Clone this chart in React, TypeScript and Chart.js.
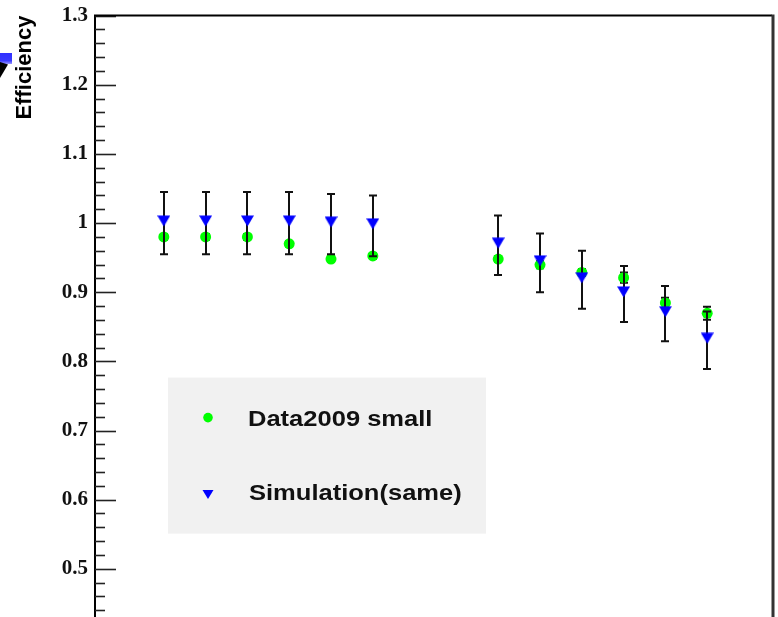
import React, { useEffect, useRef } from "react";
import { Chart, registerables } from "chart.js";

Chart.register(...registerables);

// ---- data ----
const xPositions = [1, 2, 3, 4, 5, 6, 9, 10, 11, 12, 13, 14];
const dataLabel = "Data2009 small";
const dataEff = [0.98, 0.98, 0.98, 0.97, 0.948, 0.9525, 0.948, 0.9396, 0.9285, 0.921, 0.8845, 0.8695];
const dataErr = [0.004, 0.004, 0.004, 0.004, 0.004, 0.004, 0.004, 0.005, 0.005, 0.0075, 0.0075, 0.0095];
const simLabel = "Simulation(same)";
const simEff = [1.0, 1.0, 1.0, 1.0, 0.9985, 0.996, 0.968, 0.9425, 0.918, 0.8975, 0.869, 0.8305];
const simErr = [0.045, 0.045, 0.045, 0.045, 0.0435, 0.044, 0.043, 0.0425, 0.042, 0.0405, 0.04, 0.0415];
const yTickValues = [0.4, 0.5, 0.6, 0.7, 0.8, 0.9, 1.0, 1.1, 1.2, 1.3];
const yTickLabels = ["0.4", "0.5", "0.6", "0.7", "0.8", "0.9", "1", "1.1", "1.2", "1.3"];
const yTitle = "Efficiency";

const GREEN = "#00ff00";
const BLUE = "#0000ff";

function makeTriangle(w: number, h: number, triH: number): HTMLCanvasElement {
  const c = document.createElement("canvas");
  c.width = w;
  c.height = h;
  const g = c.getContext("2d")!;
  g.fillStyle = BLUE;
  g.beginPath();
  g.moveTo(0, 0.5);
  g.lineTo(w, 0.5);
  g.lineTo(w / 2, 0.5 + triH);
  g.closePath();
  g.fill();
  return c;
}

const errorBarPlugin = {
  id: "errorBars",
  beforeDatasetDraw(chart: any, args: any) {
    const ds = chart.data.datasets[args.index];
    const errs: number[] = ds.errors;
    if (!errs) return;
    const { ctx } = chart;
    const xs = chart.scales.x;
    const ys = chart.scales.y;
    ctx.save();
    ctx.strokeStyle = "#111";
    ctx.lineWidth = 2;
    ds.data.forEach((p: any, i: number) => {
      const x = Math.round(xs.getPixelForValue(p.x));
      const y1 = ys.getPixelForValue(p.y + errs[i]);
      const y2 = ys.getPixelForValue(p.y - errs[i]);
      ctx.beginPath();
      ctx.moveTo(x, y1);
      ctx.lineTo(x, y2);
      ctx.moveTo(x - 4, y1);
      ctx.lineTo(x + 4, y1);
      ctx.moveTo(x - 4, y2);
      ctx.lineTo(x + 4, y2);
      ctx.stroke();
    });
    ctx.restore();
  },
};

const framePlugin = {
  id: "frame",
  afterDraw(chart: any) {
    const { ctx, chartArea } = chart;
    const ys = chart.scales.y;
    const { left, right, top, bottom } = chartArea;
    ctx.save();
    // inward tick marks (major every 0.1, minor every 0.02)
    ctx.strokeStyle = "#222";
    ctx.lineWidth = 1.6;
    const start = Math.ceil(ys.min / 0.02 - 1e-6);
    const end = Math.floor(ys.max / 0.02 + 1e-6);
    for (let k = start; k <= end; k++) {
      const v = k * 0.02;
      const y = Math.round(ys.getPixelForValue(v)) + 0.5;
      const major = k % 5 === 0;
      ctx.beginPath();
      ctx.moveTo(left, y);
      ctx.lineTo(left + (major ? 21 : 10), y);
      ctx.stroke();
    }
    // top and right frame
    ctx.strokeStyle = "#000";
    ctx.lineWidth = 2;
    ctx.beginPath();
    ctx.moveTo(left - 1, top);
    ctx.lineTo(right, top);
    ctx.stroke();
    ctx.strokeStyle = "#333";
    ctx.lineWidth = 3;
    ctx.beginPath();
    ctx.moveTo(right + 1, top - 1);
    ctx.lineTo(right + 1, bottom);
    ctx.stroke();
    ctx.restore();
  },
};

const legendPlugin = {
  id: "boxLegend",
  afterDraw(chart: any) {
    const { ctx } = chart;
    const dsets = chart.data.datasets;
    const dy = chart.chartArea.top - 15;
    ctx.save();
    ctx.translate(0, dy);
    ctx.fillStyle = "#f1f1f1";
    ctx.fillRect(168, 377, 318, 156);
    // green circle
    ctx.fillStyle = GREEN;
    ctx.beginPath();
    ctx.arc(208, 417, 4.8, 0, Math.PI * 2);
    ctx.fill();
    // blue triangle
    ctx.fillStyle = BLUE;
    ctx.beginPath();
    ctx.moveTo(202.5, 489.5);
    ctx.lineTo(213.5, 489.5);
    ctx.lineTo(208, 498.5);
    ctx.closePath();
    ctx.fill();
    ctx.fillStyle = "#111";
    ctx.font = "bold 22px 'Liberation Sans', Arial, sans-serif";
    ctx.textBaseline = "alphabetic";
    ctx.textAlign = "left";
    const rows = [
      { text: dsets[1].label, x: 248, y: 425 },
      { text: dsets[0].label, x: 249, y: 499 },
    ];
    rows.forEach((r) => {
      ctx.save();
      ctx.translate(r.x, r.y);
      ctx.scale(1.16, 1);
      ctx.fillText(r.text, 0, 0);
      ctx.restore();
    });
    ctx.restore();
  },
};

export default function App() {
  const ref = useRef<HTMLCanvasElement | null>(null);

  useEffect(() => {
    document.body.style.margin = "0";
    const canvas = ref.current!;
    const tri = makeTriangle(13, 16, 11);
    const chart = new Chart(canvas, {
      type: "scatter",
      data: {
        datasets: [
          {
            label: simLabel,
            data: xPositions.map((x, i) => ({ x, y: simEff[i] })),
            errors: simErr,
            pointStyle: tri,
            pointRadius: 6,
            backgroundColor: BLUE,
            borderColor: BLUE,
            borderWidth: 0,
            order: 1,
          } as any,
          {
            label: dataLabel,
            data: xPositions.map((x, i) => ({ x, y: dataEff[i] })),
            errors: dataErr,
            pointStyle: "circle",
            pointRadius: 5.5,
            backgroundColor: GREEN,
            borderColor: GREEN,
            borderWidth: 0,
            order: 2,
          } as any,
        ],
      },
      options: {
        animation: false,
        responsive: false,
        events: [],
        layout: { padding: { top: 15, right: 4, bottom: 20, left: 0 } },
        plugins: {
          legend: { display: false },
          tooltip: { enabled: false },
        },
        scales: {
          x: {
            type: "linear",
            display: false,
            min: -0.646,
            max: 15.55,
          },
          y: {
            type: "linear",
            min: 0.345,
            max: 1.3,
            afterFit: (scale: any) => {
              scale.width = 95;
            },
            grid: { display: false, drawTicks: false },
            border: { display: true, color: "#000", width: 2 },
            title: {
              display: true,
              text: yTitle,
              align: "end",
              color: "#000",
              font: { family: "'Liberation Sans', Arial, sans-serif", weight: "bold", size: 22 },
              padding: { top: 12, bottom: 0 },
            },
            ticks: {
              stepSize: 0.1,
              includeBounds: false,
              padding: 7,
              color: "#111",
              font: { family: "'Liberation Serif', 'Times New Roman', serif", weight: "bold", size: 21 },
              callback: (v: any) => {
                const idx = yTickValues.findIndex((t) => Math.abs(t - Number(v)) < 1e-6);
                return idx >= 0 ? yTickLabels[idx] : "";
              },
            },
          },
        },
      },
      plugins: [errorBarPlugin, framePlugin, legendPlugin],
    } as any);
    return () => chart.destroy();
  }, []);

  return (
    <div
      style={{
        position: "fixed",
        left: 0,
        top: 0,
        width: 778,
        height: 617,
        overflow: "hidden",
        background: "#fff",
      }}
    >
      <canvas ref={ref} width={778} height={700} style={{ display: "block", marginTop: -4 }} />
      <div
        style={{
          position: "absolute",
          left: 0,
          top: 53,
          width: 12,
          height: 11,
          background: "linear-gradient(#3030ff, #3a3aff 70%, #9a9aff)",
        }}
      />
      <div
        style={{
          position: "absolute",
          left: 0,
          top: 62,
          width: 8,
          height: 16,
          background: "#000",
          clipPath: "polygon(0 0, 100% 15%, 0 100%)",
        }}
      />
    </div>
  );
}
